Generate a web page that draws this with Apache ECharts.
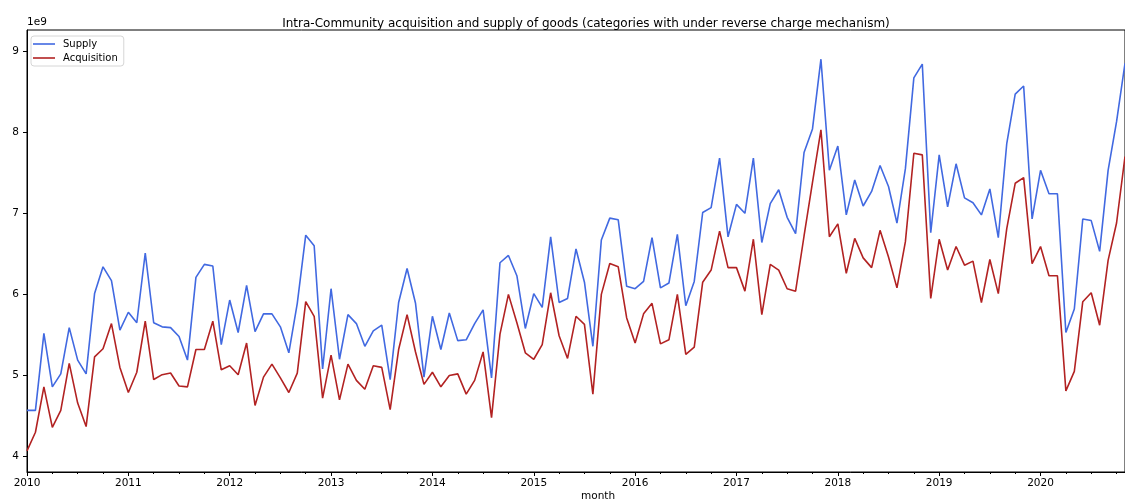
<!DOCTYPE html>
<html>
<head>
<meta charset="utf-8">
<script src="https://cdn.jsdelivr.net/npm/echarts@6/dist/echarts.min.js"></script>
<style>
  html, body { margin: 0; padding: 0; background: #fff; }
  #chart { width: 1125px; height: 500px; }
</style>
</head>
<body>
<div id="chart"></div>
<script>
// Monthly values, in units of 1e9, starting January 2010
const startYear = 2010;
const yearLabels = ['2010', '2011', '2012', '2013', '2014', '2015', '2016', '2017', '2018', '2019', '2020'];
const yTicks = [4, 5, 6, 7, 8, 9];

const supply = [
  4.57, 4.57, 5.52, 4.86, 5.02, 5.59, 5.19, 5.02, 6.01, 6.34, 6.17, 5.56,
  5.78, 5.65, 6.51, 5.65, 5.60, 5.59, 5.48, 5.19, 6.21, 6.37, 6.35, 5.38,
  5.93, 5.53, 6.11, 5.54, 5.76, 5.76, 5.60, 5.28, 5.89, 6.73, 6.60, 5.08,
  6.07, 5.20, 5.75, 5.64, 5.36, 5.55, 5.62, 4.95, 5.90, 6.32, 5.89, 4.98,
  5.73, 5.32, 5.77, 5.43, 5.44, 5.64, 5.81, 4.97, 6.39, 6.48, 6.23, 5.58,
  6.01, 5.84, 6.71, 5.90, 5.95, 6.56, 6.15, 5.36, 6.67, 6.94, 6.92, 6.10,
  6.07, 6.16, 6.70, 6.08, 6.14, 6.74, 5.86, 6.16, 7.01, 7.07, 7.68, 6.71,
  7.11, 7.00, 7.68, 6.64, 7.12, 7.29, 6.95, 6.75, 7.75, 8.04, 8.90, 7.53,
  7.83, 6.98, 7.41, 7.09, 7.27, 7.59, 7.33, 6.88, 7.55, 8.67, 8.84, 6.76,
  7.72, 7.08, 7.61, 7.19, 7.13, 6.98, 7.30, 6.70, 7.86, 8.47, 8.57, 6.93,
  7.53, 7.24, 7.24, 5.53, 5.82, 6.93, 6.91, 6.53, 7.53, 8.13, 8.85
];

const acquisition = [
  4.07, 4.30, 4.86, 4.36, 4.57, 5.15, 4.66, 4.37, 5.23, 5.33, 5.64, 5.10,
  4.79, 5.04, 5.67, 4.95, 5.01, 5.03, 4.87, 4.86, 5.32, 5.32, 5.67, 5.07,
  5.12, 5.01, 5.40, 4.63, 4.98, 5.14, 4.97, 4.79, 5.03, 5.91, 5.73, 4.72,
  5.25, 4.70, 5.14, 4.94, 4.83, 5.12, 5.10, 4.58, 5.32, 5.75, 5.29, 4.89,
  5.04, 4.86, 5.00, 5.02, 4.77, 4.94, 5.29, 4.48, 5.51, 6.00, 5.65, 5.28,
  5.20, 5.38, 6.02, 5.49, 5.21, 5.73, 5.63, 4.77, 6.00, 6.38, 6.34, 5.71,
  5.40, 5.76, 5.89, 5.39, 5.44, 6.00, 5.26, 5.35, 6.15, 6.30, 6.78, 6.33,
  6.33, 6.04, 6.68, 5.75, 6.37, 6.30, 6.07, 6.04, 6.72, 7.38, 8.03, 6.71,
  6.87, 6.26, 6.69, 6.45, 6.33, 6.79, 6.46, 6.08, 6.65, 7.74, 7.72, 5.95,
  6.68, 6.30, 6.59, 6.36, 6.41, 5.90, 6.43, 6.01, 6.81, 7.37, 7.44, 6.38,
  6.59, 6.23, 6.23, 4.81, 5.05, 5.91, 6.02, 5.62, 6.42, 6.88, 7.70
];

// month index -> [index, value]
const toPairs = arr => arr.map((v, i) => [i, v]);
const lastMonth = supply.length - 1;
const yearTickPos = yearLabels.map((_, k) => k * 12);
const quarterTickPos = [];
for (let m = 3; m <= lastMonth; m += 3) if (m % 12 !== 0) quarterTickPos.push(m);

const font = 'DejaVu Sans';
const chart = echarts.init(document.getElementById('chart'), null, { renderer: 'canvas' });

chart.setOption({
  animation: false,
  backgroundColor: '#fff',
  textStyle: { fontFamily: font },
  title: {
    text: 'Intra-Community acquisition and supply of goods (categories with under reverse charge mechanism)',
    left: 581,
    textAlign: 'center',
    top: 13,
    textStyle: { fontFamily: font, fontSize: 12, fontWeight: 'normal', color: '#000' }
  },
  legend: {
    data: ['Supply', 'Acquisition'],
    orient: 'vertical',
    left: 31,
    top: 36,
    icon: 'rect',
    itemWidth: 22,
    itemHeight: 1.6,
    itemGap: 4,
    padding: [3, 6, 3, 2],
    backgroundColor: '#fff',
    borderColor: '#d6d6d6',
    borderWidth: 1,
    borderRadius: 3,
    textStyle: { fontFamily: font, fontSize: 10, color: '#000', padding: [0, 0, 0, 3] }
  },
  grid: {
    left: 27, right: -2, top: 30, bottom: 28,
    show: true, borderColor: '#000', borderWidth: 1, backgroundColor: 'transparent'
  },
  xAxis: [
    {
      type: 'value',
      min: 0,
      max: lastMonth,
      axisLine: { show: true, lineStyle: { color: '#000', width: 1 } },
      axisTick: { show: true, customValues: yearTickPos, length: 4, inside: false, lineStyle: { color: '#000' } },
      axisLabel: {
        customValues: yearTickPos,
        margin: 6,
        fontFamily: font, fontSize: 10.5, color: '#000',
        formatter: v => yearLabels[Math.round(v / 12)] || ''
      },
      splitLine: { show: false }
    },
    {
      type: 'value',
      position: 'bottom',
      min: 0,
      max: lastMonth,
      axisLine: { show: false },
      axisTick: { show: true, customValues: quarterTickPos, length: 2, lineStyle: { color: '#000' } },
      axisLabel: { show: false },
      splitLine: { show: false }
    }
  ],
  yAxis: {
    type: 'value',
    min: 3.81,
    max: 9.26,
    axisLine: { show: true, lineStyle: { color: '#000', width: 1 } },
    axisTick: { show: true, customValues: yTicks, length: 4, lineStyle: { color: '#000' } },
    axisLabel: { customValues: yTicks, margin: 8, fontFamily: font, fontSize: 10.5, color: '#000' },
    splitLine: { show: false }
  },
  graphic: [
    { type: 'text', left: 27, top: 17, style: { text: '1e9', fontFamily: font, fontSize: 10.5, fill: '#000' } },
    { type: 'text', left: 581, top: 491, style: { text: 'month', fontFamily: font, fontSize: 10.5, fill: '#000', textAlign: 'center' } }
  ],
  series: [
    {
      name: 'Supply', type: 'line', xAxisIndex: 0,
      data: toPairs(supply), symbol: 'none',
      itemStyle: { color: '#4169e1' },
      lineStyle: { color: '#4169e1', width: 1.6 }
    },
    {
      name: 'Acquisition', type: 'line', xAxisIndex: 0,
      data: toPairs(acquisition), symbol: 'none',
      itemStyle: { color: '#b22222' },
      lineStyle: { color: '#b22222', width: 1.6 }
    }
  ]
});
</script>
</body>
</html>
